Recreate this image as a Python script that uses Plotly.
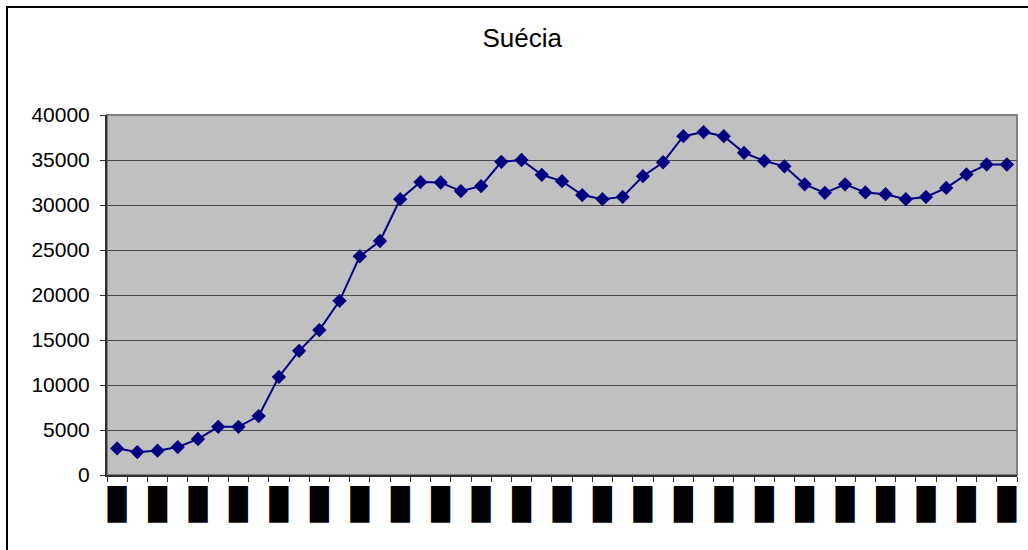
import plotly.graph_objects as go

# category labels are hidden behind black boxes in the source chart
periods = [str(1961 + i) for i in range(45)]
values = [
    2950, 2550, 2700, 3100, 4000, 5350, 5350, 6550, 10900, 13800,
    16100, 19350, 24300, 26000, 30650, 32550, 32500, 31550, 32100, 34800,
    35000, 33350, 32650, 31100, 30650, 30900, 33200, 34750, 37650, 38100,
    37650, 35800, 34900, 34300, 32300, 31350, 32300, 31400, 31200, 30650,
    30900, 31900, 33400, 34500, 34500,
]
tick_text = ["█" if i % 2 == 0 else "" for i in range(len(periods))]
y_ticks = [0, 5000, 10000, 15000, 20000, 25000, 30000, 35000, 40000]
y_labels = ["0", "5000", "10000", "15000", "20000", "25000", "30000", "35000", "40000"]

fig = go.Figure()
fig.add_trace(
    go.Scatter(
        x=periods,
        y=values,
        mode="lines+markers",
        line=dict(color="#000080", width=2),
        marker=dict(symbol="diamond", size=11, color="#000080"),
        showlegend=False,
    )
)

fig.update_layout(
    width=1028,
    height=550,
    margin=dict(l=107, r=11, t=115, b=75),
    paper_bgcolor="white",
    plot_bgcolor="#C0C0C0",
    font=dict(family="Liberation Sans, Arial", size=21, color="black"),
    title=dict(
        text="Suécia",
        font=dict(size=26),
        x=0.508,
        xref="container",
        xanchor="center",
        y=1 - 38 / 550,
        yref="container",
        yanchor="middle",
    ),
    shapes=[
        # plot area frame (top / right in grey)
        dict(type="rect", xref="paper", yref="paper", x0=0, x1=1, y0=0, y1=1,
             line=dict(color="#808080", width=2), layer="below"),
        # outer chart border
        dict(type="rect", xref="paper", yref="paper",
             x0=(7 - 107) / 910, x1=(1040 - 107) / 910,
             y0=(475 - 570) / 360, y1=(475 - 7) / 360,
             line=dict(color="black", width=2)),
    ],
)

fig.update_xaxes(
    type="category",
    range=[-0.5, len(periods) - 0.5],
    tickmode="array",
    tickvals=periods,
    ticktext=tick_text,
    tickson="boundaries",
    tickangle=0,
    automargin=False,
    ticks="outside",
    ticklen=5,
    tickcolor="#303030",
    showline=True,
    linecolor="#303030",
    linewidth=2,
    showgrid=False,
    tickfont=dict(family="DejaVu Sans Mono", size=31, color="black"),
    ticklabelstandoff=1,
)
fig.update_yaxes(
    range=[0, 40000],
    tickmode="array",
    tickvals=y_ticks,
    ticktext=y_labels,
    automargin=False,
    ticks="outside",
    ticklen=5,
    tickcolor="#303030",
    showline=True,
    linecolor="#303030",
    linewidth=2,
    gridcolor="#4a4a4a",
    gridwidth=1,
    zeroline=False,
    ticklabelstandoff=6,
)

fig.write_html(
    "out.html",
    config={"displayModeBar": False},
    post_script="document.body.style.margin = '0';",
)
